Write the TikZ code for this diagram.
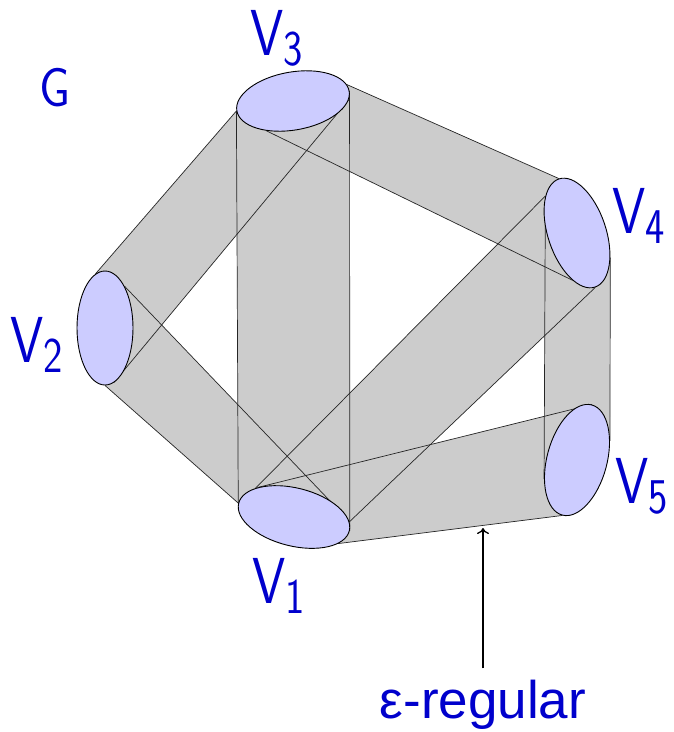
\documentclass[tikz,border=0pt]{standalone}
\usepackage{fontspec}
\newfontfamily\regfont{Liberation Sans}
\usepackage{graphicx}
\usetikzlibrary{shapes.geometric, arrows.meta, positioning, backgrounds}

\definecolor{partblue}{RGB}{204,204,255}
\definecolor{bandgray}{RGB}{204,204,204}
\definecolor{labblue}{RGB}{0,0,204}

\newcommand{\vname}[1]{\scalebox{0.82}[1]{\fontsize{65}{65}\selectfont V\raisebox{-10pt}{\fontsize{50}{50}\selectfont #1}}}

\begin{document}
\begin{tikzpicture}[
    x=1pt, y=-1pt,
    part/.style={ellipse, draw=black, line width=0.9pt, fill=partblue,
        inner sep=0pt, minimum width=114pt, minimum height=58pt},
    tall/.style={minimum width=58pt, minimum height=114pt},
    band/.style={fill=bandgray},
    rim/.style={draw=black!85, line width=0.7pt},
    lab/.style={text=labblue, inner sep=0pt, anchor=base west, font=\sffamily},
    pointer/.style={-{To[length=6pt, width=12pt]}, line width=1.3pt}
]
\useasboundingbox (0,0) rectangle (674,732);

% the five parts
\node[part, rotate=10]  (V3) at (293,101) {};
\node[part, rotate=-14] (V1) at (294,517) {};
\node[part, tall, minimum width=56pt] (V2) at (105,328) {};
\node[part, tall, rotate=18.5] (V4) at (577,233) {};
\node[part, tall, minimum width=60pt, rotate=-15] (V5) at (577,460) {};

% regular pairs: side one from a to b, side two from c to d
\def\pairs{V3.west/V1.west/V3.east/V1.east,V2.100/V3.west/V2.279/V3.351,V2.65/V1.10/V2.south/V1.west,V3.7/V4.north/V3.218/V4.246,V1.157/V4.112/V1.9/V4.south,V4.112/V5.225/V4.305/V5.45,V1.155/V5.north/V1.343/V5.south}
\begin{scope}[on background layer]
    \foreach \a/\b/\c/\d in \pairs
        \fill[band] (\a) -- (\b) -- (\d) -- (\c) -- cycle;
    \foreach \a/\b/\c/\d in \pairs
        \draw[rim] (\a) -- (\b) (\c) -- (\d);
\end{scope}

% labels
\node[lab] (G)  at (39,106)  {\scalebox{0.9}[1]{\fontsize{55}{55}\selectfont G}};
\node[lab] (L3) at (250,55)  {\vname{3}};
\node[lab] (L4) at (612,233) {\vname{4}};
\node[lab] (L2) at (10,362)  {\vname{2}};
\node[lab] (L5) at (615,503) {\vname{5}};
\node[lab] (L1) at (252,603) {\vname{1}};

\node[text=labblue, inner sep=0pt, anchor=base,
    font=\regfont\fontsize{53}{53}\selectfont] (reg) at (483,718) {ε-regular};
\coordinate (tip) at (483,528);
\draw[pointer] ([yshift=11pt]reg.north) -- (tip);
\end{tikzpicture}
\end{document}
